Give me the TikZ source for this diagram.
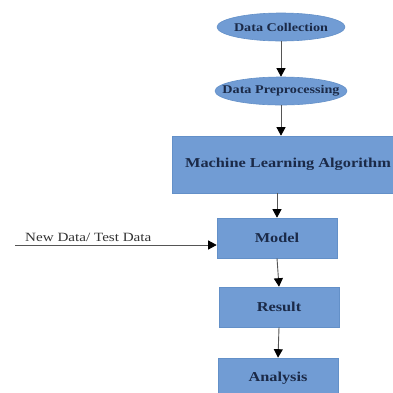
\documentclass[tikz,border=0pt]{standalone}
\usepackage{fontspec}
\usetikzlibrary{shapes.geometric,arrows.meta}
\newfontfamily\flowfont[FakeStretch=1.2]{Liberation Serif}
\definecolor{boxfill}{HTML}{719CD4}
\definecolor{boxedge}{HTML}{6390C8}
\definecolor{boxtext}{HTML}{1B2A48}
\definecolor{linegray}{HTML}{555555}
\tikzset{
  oval/.style={ellipse, fill=boxfill, draw=boxedge, line width=0.6pt,
    inner sep=0pt, minimum height=28pt, text=boxtext,
    font=\flowfont\bfseries\fontsize{11.8}{13}\selectfont},
  stagebox/.style={rectangle, fill=boxfill, draw=boxedge, line width=0.6pt,
    inner sep=0pt, minimum width=120pt, minimum height=40pt, text=boxtext,
    font=\flowfont\bfseries\fontsize{13.6}{15}\selectfont},
  flow/.style={draw=linegray, line width=0.9pt,
    -{Triangle[length=8.5pt,width=9pt,color=black]}},
  inlabel/.style={inner sep=0pt, anchor=west, text=black!80,
    font=\flowfont\fontsize{12.6}{14}\selectfont}
}
\begin{document}
\begin{tikzpicture}[x=1pt,y=-1pt]
  \useasboundingbox (0,0) rectangle (393,392);
  \clip (0,0) rectangle (393,392);

  % pipeline stages
  \node[oval, minimum width=128pt] (dc) at (281,27) {\makebox[0pt]{Data Collection}};
  \node[oval, minimum width=132pt] (dp) at (281,91) {\makebox[0pt]{Data Preprocessing}};
  \node[stagebox, minimum width=232pt, minimum height=57pt] (ml) at (288,164.5)
    {Machine Learning Algorithm};
  \node[stagebox] (model) at (277,238) {Model};
  \node[stagebox] (result) at (279,307) {Result};
  \node[stagebox] (analysis) at (278,378) {Analysis};

  % connectors
  \draw[flow] (dc.south) -- (dp.north);
  \draw[flow] (dp.south) -- (dp.south |- ml.north);
  \draw[flow] (ml.south -| model.north) -- (model.north);
  \draw[flow] (model.south) -- (result.north);
  \draw[flow] (result.south) -- (analysis.north);

  % external input into the model
  \coordinate (newdata) at (15,245);
  \draw[flow] (newdata) -- (newdata -| model.west);
  \node[inlabel] (newlabel) at (25,237.5) {New Data/ Test Data};
\end{tikzpicture}
\end{document}
